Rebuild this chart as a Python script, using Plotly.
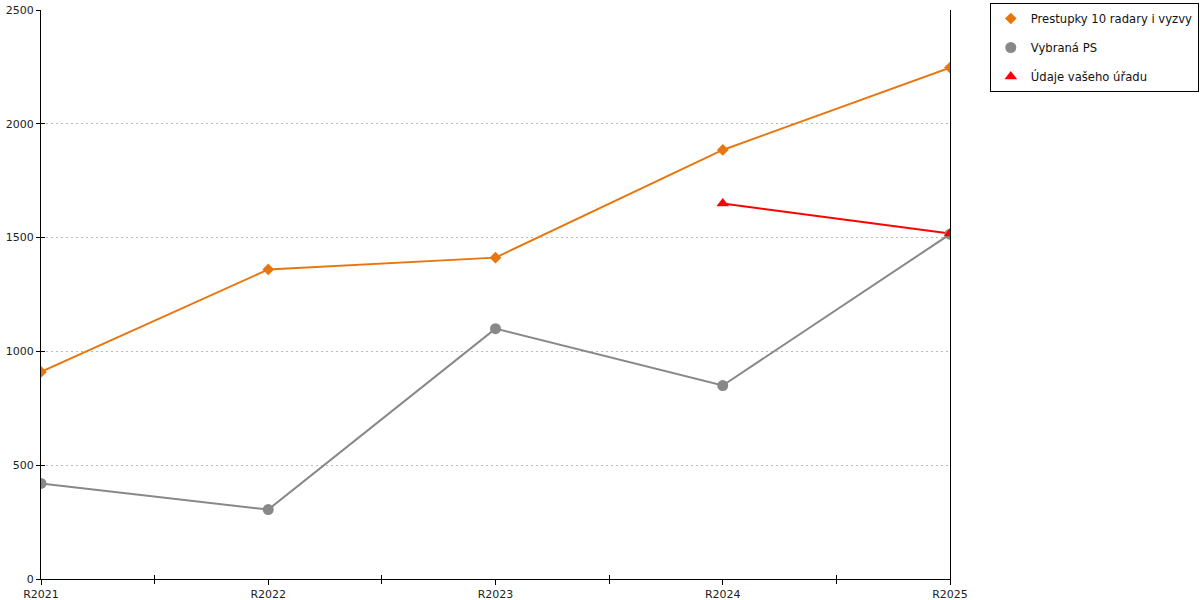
import plotly.graph_objects as go

years = ["R2021", "R2022", "R2023", "R2024", "R2025"]
prestupky = [910, 1360, 1412, 1885, 2247]
vybrana_ps = [420, 305, 1100, 850, 1515]
urad_years = ["R2024", "R2025"]
urad = [1650, 1518]
mid_ticks = [0.5, 1.5, 2.5, 3.5]
y_ticks = [0, 500, 1000, 1500, 2000, 2500]

FONT = "DejaVu Sans"

series = [
    ("Prestupky 10 radary i vyzvy", years, prestupky, "#E8760F", "diamond", 9),
    ("Vybraná PS", years, vybrana_ps, "#888888", "circle", 11),
    ("Údaje vašeho úřadu", urad_years, urad, "#FF0000", "triangle-up", 11),
]

fig = go.Figure()
# lines first (no legend), then markers carrying the legend entry
for name, xs, ys, color, symbol, size in series:
    fig.add_trace(go.Scatter(
        x=xs, y=ys, mode="lines", showlegend=False, hoverinfo="skip",
        line=dict(color=color, width=2),
    ))
for i, (name, xs, ys, color, symbol, size) in enumerate(series):
    fig.add_trace(go.Scatter(
        x=xs, y=ys, name=name, mode="markers", legendgroup=str(i),
        marker=dict(symbol=symbol, size=size, color=color),
    ))

axis_font = dict(family=FONT, size=11, color="#222222")

fig.update_layout(
    width=1200, height=600,
    margin=dict(l=41, r=250, t=10, b=21, autoexpand=False),
    plot_bgcolor="white", paper_bgcolor="white",
    font=dict(family=FONT, size=12, color="#111111"),
    xaxis=dict(
        type="category", range=[0, 4], showgrid=False, zeroline=False,
        showline=True, linecolor="black", linewidth=1, automargin=False,
        ticks="outside", ticklen=5, tickcolor="black",
        tickfont=axis_font,
    ),
    xaxis2=dict(
        overlaying="x", anchor="y", side="bottom", range=[0, 4],
        tickmode="array", tickvals=mid_ticks, showticklabels=False,
        ticks="outside", ticklen=4, tickcolor="black", automargin=False,
        showgrid=False, zeroline=False, showline=False,
    ),
    xaxis3=dict(
        overlaying="x", anchor="y", side="bottom", range=[0, 4],
        tickmode="array", tickvals=mid_ticks, showticklabels=False,
        ticks="inside", ticklen=4, tickcolor="black", automargin=False,
        showgrid=False, zeroline=False, showline=False,
    ),
    yaxis=dict(
        range=[0, 2500], tickmode="array", tickvals=y_ticks,
        showgrid=True, gridcolor="#BBBBBB", griddash="2px,3px", gridwidth=1,
        zeroline=False, showline=True, linecolor="black", linewidth=1,
        mirror=True, ticks="outside", ticklen=4, tickcolor="black",
        tickfont=axis_font, automargin=False,
    ),
    yaxis2=dict(
        overlaying="y", anchor="x", side="left", range=[0, 2500],
        tickmode="array", tickvals=y_ticks, showticklabels=False,
        ticks="inside", ticklen=4, tickcolor="black", automargin=False,
        showgrid=False, zeroline=False, showline=False,
    ),
    legend=dict(
        xref="container", yref="container",
        x=0.999, y=0.995, xanchor="right", yanchor="top",
        bgcolor="white", bordercolor="black", borderwidth=1,
        traceorder="grouped", tracegroupgap=10,
        font=dict(family=FONT, size=11.6, color="#111111"),
    ),
)

# invisible traces so the helper tick axes get drawn
fig.add_trace(go.Scatter(x=[], y=[], xaxis="x2", showlegend=False, hoverinfo="skip"))
fig.add_trace(go.Scatter(x=[], y=[], xaxis="x3", showlegend=False, hoverinfo="skip"))
fig.add_trace(go.Scatter(x=[], y=[], yaxis="y2", showlegend=False, hoverinfo="skip"))

# drop the default 8px page margin so the figure fills the window exactly
fig.write_html(
    "out.html",
    config={"displayModeBar": False},
    post_script="document.body.style.margin='0';",
)
